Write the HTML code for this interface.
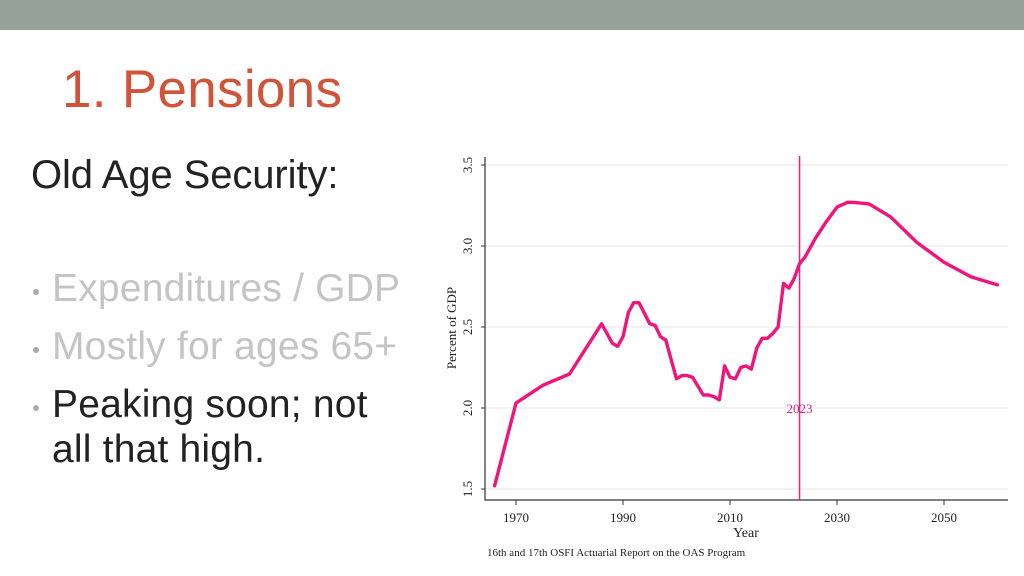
<!DOCTYPE html>
<html><head><meta charset="utf-8"><style>
body{margin:0;width:1024px;height:576px;background:#fff;position:relative;overflow:hidden;font-family:"Liberation Sans",sans-serif}
.t{position:absolute;white-space:nowrap;margin:0}
.b{position:absolute;width:6px;height:6px;border-radius:50%;background:#aaa}
</style></head><body>
<div style="position:absolute;left:0;top:0;width:1024px;height:30px;background:#95a39a"></div>
<div class="t" style="left:62px;top:63px;font-size:53px;color:#d0533a;line-height:53px;letter-spacing:0.3px">1. Pensions</div>
<div class="t" style="left:31px;top:155px;font-size:40px;color:#222;line-height:40px;letter-spacing:-0.1px">Old Age Security:</div>
<div class="b" style="left:33px;top:289px"></div>
<div class="t" style="left:52px;top:269px;font-size:39px;color:#c4c4c4;line-height:39px;letter-spacing:0.2px">Expenditures / GDP</div>
<div class="b" style="left:33px;top:347px"></div>
<div class="t" style="left:52px;top:327px;font-size:39px;color:#c4c4c4;line-height:39px;letter-spacing:0.2px">Mostly for ages 65+</div>
<div class="b" style="left:33px;top:405px"></div>
<div class="t" style="left:52px;top:385px;font-size:39px;color:#222;line-height:39px;letter-spacing:0.2px">Peaking soon; not</div>
<div class="t" style="left:52px;top:430px;font-size:39px;color:#222;line-height:39px;letter-spacing:0.2px">all that high.</div>
<svg id="chart" style="position:absolute;left:0;top:0" width="1024" height="576"></svg>
<script>
const years=[1966,1970,1975,1980,1986,1988,1989,1990,1991,1992,1993,1995,1996,1997,1998,1999,2000,2001,2002,2003,2005,2006,2007,2008,2009,2010,2011,2012,2013,2014,2015,2016,2017,2018,2019,2020,2021,2022,2023,2024,2026,2028,2030,2032,2033,2036,2040,2045,2050,2055,2060];
const values=[1.52,2.03,2.14,2.21,2.52,2.40,2.38,2.44,2.59,2.65,2.65,2.52,2.51,2.44,2.42,2.30,2.18,2.20,2.20,2.19,2.08,2.08,2.07,2.05,2.26,2.19,2.18,2.25,2.26,2.24,2.37,2.43,2.43,2.46,2.50,2.77,2.74,2.80,2.89,2.93,3.05,3.15,3.24,3.27,3.27,3.26,3.18,3.02,2.90,2.81,2.76];
const xTicks=[1970,1990,2010,2030,2050];
const yTicks=[1.5,2.0,2.5,3.0,3.5];
const markerYear=2023;
const NS="http://www.w3.org/2000/svg";
const svg=document.getElementById('chart');
const X=y=>516+(y-1970)*(944-516)/80;
const Y=v=>489-(v-1.5)*162;
function mk(tag,attrs,parent){const e=document.createElementNS(NS,tag);for(const k in attrs)e.setAttribute(k,attrs[k]);(parent||svg).appendChild(e);return e;}
yTicks.forEach(t=>{
  const g=mk('line',{x1:485,x2:1008,y1:Y(t),y2:Y(t),stroke:'#eeeeee','stroke-width':1.5});
  
  
  const tk=mk('line',{x1:481,x2:485,y1:Y(t),y2:Y(t),stroke:'#333'});
  
  
  const tx=mk('text',{x:0,y:0,transform:`translate(472,${Y(t)}) rotate(-90)`,'text-anchor':'middle','font-family':'Liberation Serif,serif','font-size':13,fill:'#222'});
  tx.textContent=t.toFixed(1);
  
  
});
xTicks.forEach(t=>{
  const tk=mk('line',{x1:X(t),x2:X(t),y1:500,y2:505,stroke:'#333'});
  
  
  const tx=mk('text',{x:X(t),y:522,'text-anchor':'middle','font-family':'Liberation Serif,serif','font-size':13,fill:'#222'});
  tx.textContent=t;
  
  
});
const ax=mk('path',{d:'M485 157 V500 H1008',fill:'none',stroke:'#333','stroke-width':1.2});


const vl=mk('line',{x1:X(markerYear),x2:X(markerYear),y1:156,y2:500,stroke:'#e8207f','stroke-width':1.5});


const vt=mk('text',{x:X(markerYear),y:413,'text-anchor':'middle','font-family':'Liberation Serif,serif','font-size':13,fill:'#e0207a'});
vt.textContent=String(markerYear);


const d=years.map((y,i)=>(i?'L':'M')+X(y).toFixed(1)+' '+Y(values[i]).toFixed(1)).join(' ');
const ln=mk('path',{d:d,fill:'none',stroke:'#f0157a','stroke-width':3.4,'stroke-linejoin':'round','stroke-linecap':'round'});


const yt=mk('text',{x:0,y:0,transform:'translate(456,328) rotate(-90)','text-anchor':'middle','font-family':'Liberation Serif,serif','font-size':13,fill:'#222'});
yt.textContent='Percent of GDP';


const xt=mk('text',{x:746,y:537,'text-anchor':'middle','font-family':'Liberation Serif,serif','font-size':14,fill:'#222'});
xt.textContent='Year';


const src=mk('text',{x:487,y:556,'font-family':'Liberation Serif,serif','font-size':11,fill:'#222'});
src.textContent='16th and 17th OSFI Actuarial Report on the OAS Program';


</script>
</body></html>
